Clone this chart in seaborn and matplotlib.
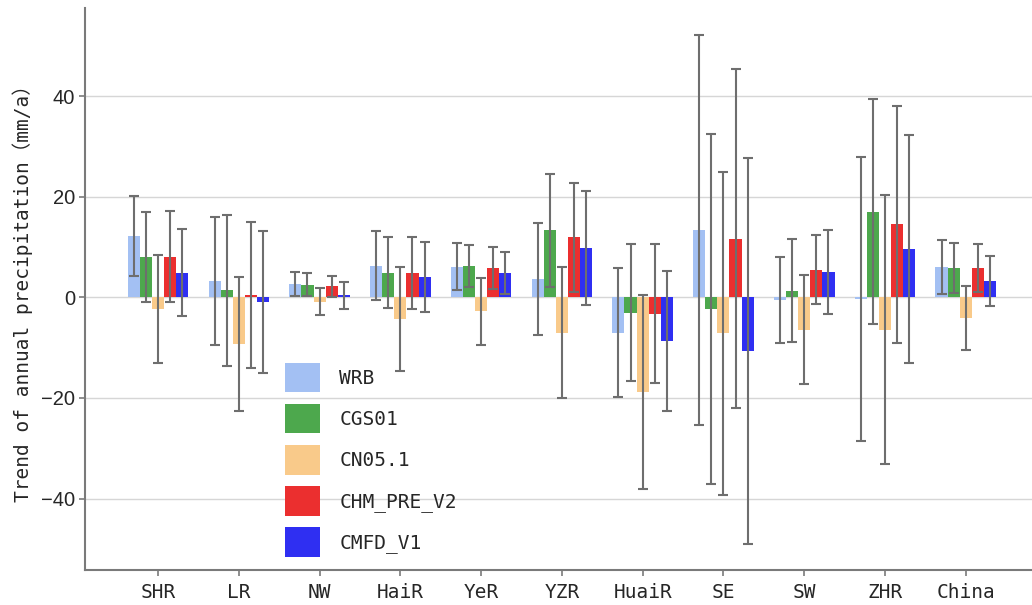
import numpy as np
import pandas as pd
import matplotlib
matplotlib.use("Agg")
import matplotlib.pyplot as plt
import seaborn as sns

# Regions and datasets
regions = ["SHR", "LR", "NW", "HaiR", "YeR", "YZR", "HuaiR", "SE", "SW", "ZHR", "China"]
datasets = ["WRB", "CGS01", "CN05.1", "CHM_PRE_V2", "CMFD_V1"]

# Trend of annual precipitation (mm/a) per dataset, one value per region
wrb_trend = [12.2, 3.3, 2.7, 6.3, 6.1, 3.6, -7.0, 13.4, -0.5, -0.3, 6.0]
cgs_trend = [8.0, 1.4, 2.5, 4.9, 6.2, 13.3, -3.1, -2.3, 1.3, 17.0, 5.8]
cn05_trend = [-2.3, -9.3, -0.9, -4.3, -2.8, -7.0, -18.9, -7.1, -6.4, -6.4, -4.1]
chm_trend = [8.1, 0.4, 2.2, 4.8, 5.8, 11.9, -3.3, 11.6, 5.5, 14.5, 5.8]
cmfd_trend = [4.9, -1.0, 0.4, 4.0, 4.9, 9.8, -8.6, -10.7, 5.0, 9.6, 3.3]

# Half-width of the uncertainty range for each trend
wrb_err = [7.9, 12.7, 2.4, 6.8, 4.7, 11.1, 12.8, 38.7, 8.5, 28.2, 5.4]
cgs_err = [8.9, 15.0, 2.3, 7.1, 4.1, 11.2, 13.6, 34.8, 10.2, 22.4, 4.9]
cn05_err = [10.7, 13.3, 2.7, 10.4, 6.7, 13.1, 19.3, 32.1, 10.9, 26.8, 6.3]
chm_err = [9.0, 14.5, 2.1, 7.2, 4.2, 10.8, 13.8, 33.7, 6.8, 23.5, 4.8]
cmfd_err = [8.7, 14.1, 2.7, 7.0, 4.2, 11.4, 13.9, 38.3, 8.4, 22.7, 5.0]

trends = [wrb_trend, cgs_trend, cn05_trend, chm_trend, cmfd_trend]
errors = [wrb_err, cgs_err, cn05_err, chm_err, cmfd_err]
colors = ["#a3c0f3", "#4da84d", "#f9ca8a", "#eb2f2f", "#2f2ff2"]

df = pd.DataFrame({
    "region": np.tile(regions, len(datasets)),
    "dataset": np.repeat(datasets, len(regions)),
    "trend": np.concatenate(trends),
    "err": np.concatenate(errors),
})

sns.set_theme(style="white")
mono = ["DejaVu Sans Mono", "Noto Sans CJK SC"]
plt.rcParams["font.family"] = mono
plt.rcParams["axes.unicode_minus"] = True

fig = plt.figure(figsize=(10.32, 6.05), dpi=100)
ax = fig.add_axes([85 / 1032, 35 / 605, 947 / 1032, 562 / 605])

sns.barplot(data=df, x="region", y="trend", hue="dataset", order=regions,
            hue_order=datasets, palette=colors, saturation=1, width=0.75,
            errorbar=None, ax=ax, zorder=2, linewidth=0)

# Error bars centred on each bar
for container, err in zip(ax.containers, errors):
    xs = [p.get_x() + p.get_width() / 2 for p in container.patches]
    vals = container.datavalues
    ax.errorbar(xs, vals, yerr=err, fmt="none", ecolor="#6e6e6e",
                elinewidth=1.5, capsize=3.6, capthick=1.5, zorder=3)

ax.set_ylim(-54.2, 57.5)
ax.set_xlim(-0.904, 10.82)
ax.set_yticks([-40, -20, 0, 20, 40])
ax.yaxis.grid(True, color="#d6d6d6", linewidth=1.0, zorder=0)
ax.set_axisbelow(True)

for side in ["top", "right"]:
    ax.spines[side].set_visible(False)
for side in ["left", "bottom"]:
    ax.spines[side].set_color("#7a7a7a")
    ax.spines[side].set_linewidth(1.5)

ax.tick_params(axis="both", which="both", direction="out", length=4, width=1.2,
               color="#7a7a7a", bottom=True, left=True)
ax.tick_params(axis="x", labelsize=14, pad=5)
ax.tick_params(axis="y", labelsize=14.5, pad=3)
for lab in ax.get_yticklabels():
    lab.set_family(["Liberation Sans", "DejaVu Sans"])

ax.set_xlabel("")
ax.set_ylabel("Trend of annual precipitation（mm/a）", fontsize=14, labelpad=6)

handles, labels = ax.get_legend_handles_labels()
ax.legend(handles, labels, loc="upper left", bbox_to_anchor=(200 / 947, 207 / 562),
          frameon=False, fontsize=14, handlelength=1.8, handleheight=1.95,
          labelspacing=0.6, handletextpad=1.0, borderpad=0, borderaxespad=0)

fig.savefig("out.png", dpi=100)
